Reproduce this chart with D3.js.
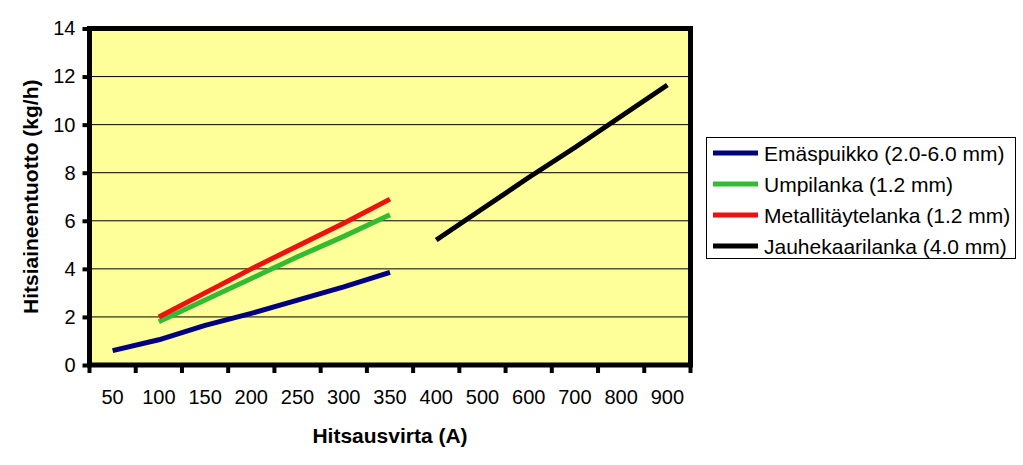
<!DOCTYPE html>
<html>
<head>
<meta charset="utf-8">
<script src="https://cdn.jsdelivr.net/npm/d3@7"></script>
<style>
  html, body { margin: 0; padding: 0; background: #fff; }
  svg { display: block; font-family: "Liberation Sans", Arial, sans-serif; }
</style>
</head>
<body>
<svg id="chart" width="1023" height="465"></svg>
<script>
const categories = ["50","100","150","200","250","300","350","400","500","600","700","800","900"];
const emaspuikko = [0.6, 1.05, 1.65, 2.15, 2.7, 3.25, 3.85, null, null, null, null, null, null];
const umpilanka = [null, 1.8, 2.7, 3.6, 4.5, 5.35, 6.25, null, null, null, null, null, null];
const metallitaytelanka = [null, 2.0, 3.0, 4.0, 4.95, 5.9, 6.9, null, null, null, null, null, null];
const jauhekaarilanka = [null, null, null, null, null, null, null, 5.2, 6.5, 7.8, 9.05, 10.35, 11.65];
const yTicks = [0, 2, 4, 6, 8, 10, 12, 14];
const seriesNames = ["Emäspuikko (2.0-6.0 mm)", "Umpilanka (1.2 mm)", "Metallitäytelanka (1.2 mm)", "Jauhekaarilanka (4.0 mm)"];
const seriesColors = ["#000080", "#33bb33", "#ee1111", "#000000"];
const seriesValues = [emaspuikko, umpilanka, metallitaytelanka, jauhekaarilanka];

const svg = d3.select("#chart");
const L = 89.5, R = 690.5, T = 28.5, B = 365;

const x = d3.scaleBand().domain(categories).range([L, R]).paddingInner(0).paddingOuter(0);
const y = d3.scaleLinear().domain([0, 14]).range([B, T]);

// plot background
svg.append("rect").attr("x", L).attr("y", T).attr("width", R - L).attr("height", B - T).attr("fill", "#ffff99");

// gridlines
svg.append("g").selectAll("line").data(yTicks.filter(d => d > 0 && d < 14)).join("line")
  .attr("x1", L).attr("x2", R).attr("y1", d => y(d)).attr("y2", d => y(d))
  .attr("stroke", "#000").attr("stroke-width", 1);

// series lines
const line = d3.line()
  .defined(d => d.v !== null)
  .x(d => x(d.c) + x.bandwidth() / 2)
  .y(d => y(d.v));

seriesValues.forEach((vals, i) => {
  const data = categories.map((c, j) => ({ c, v: vals[j] }));
  svg.append("path").datum(data).attr("d", line)
    .attr("fill", "none").attr("stroke", seriesColors[i]).attr("stroke-width", 5)
    .attr("stroke-linejoin", "round").attr("stroke-linecap", "butt");
});

// frame
svg.append("rect").attr("x", L).attr("y", T).attr("width", R - L).attr("height", B - T)
  .attr("fill", "none").attr("stroke", "#000").attr("stroke-width", 5);

// y axis
const yAxis = d3.axisLeft(y).tickValues(yTicks).tickSize(7).tickPadding(7).tickFormat(d3.format("d"));
const gy = svg.append("g").attr("transform", `translate(${L},0)`).call(yAxis);
gy.select(".domain").remove();
gy.selectAll(".tick line").attr("stroke", "#000").attr("stroke-width", 4);
gy.selectAll(".tick text").attr("font-size", 20).attr("fill", "#000")
  .attr("font-family", "'Liberation Sans', Arial, sans-serif");

// x axis labels
const xAxis = d3.axisBottom(x).tickSize(0).tickPadding(25);
const gx = svg.append("g").attr("transform", `translate(0,${B})`).call(xAxis);
gx.select(".domain").remove();
gx.selectAll(".tick text").attr("font-size", 20).attr("fill", "#000")
  .attr("font-family", "'Liberation Sans', Arial, sans-serif");

// x boundary ticks
const bounds = categories.map(c => x(c)).concat([x(categories[categories.length - 1]) + x.bandwidth()]);
svg.append("g").selectAll("line").data(bounds).join("line")
  .attr("x1", d => d).attr("x2", d => d).attr("y1", B).attr("y2", B + 8)
  .attr("stroke", "#000").attr("stroke-width", 4);

// axis titles
svg.append("text").attr("x", (L + R) / 2).attr("y", 443).attr("text-anchor", "middle")
  .attr("font-size", 21).attr("font-weight", "bold").text("Hitsausvirta (A)");
svg.append("text").attr("transform", `translate(38,${(T + B) / 2}) rotate(-90)`).attr("text-anchor", "middle")
  .attr("font-size", 21).attr("font-weight", "bold").text("Hitsiaineentuotto (kg/h)");

// legend
const lg = svg.append("g");
lg.append("rect").attr("x", 706.5).attr("y", 137.5).attr("width", 309).attr("height", 121)
  .attr("fill", "#fff").attr("stroke", "#000").attr("stroke-width", 1);
seriesNames.forEach((name, i) => {
  const cy = 153 + i * 31;
  lg.append("line").attr("x1", 713).attr("x2", 758).attr("y1", cy).attr("y2", cy)
    .attr("stroke", seriesColors[i]).attr("stroke-width", 5);
  lg.append("text").attr("x", 764).attr("y", cy).attr("dy", "0.36em")
    .attr("font-size", 21).attr("fill", "#000").text(name);
});
</script>
</body>
</html>
